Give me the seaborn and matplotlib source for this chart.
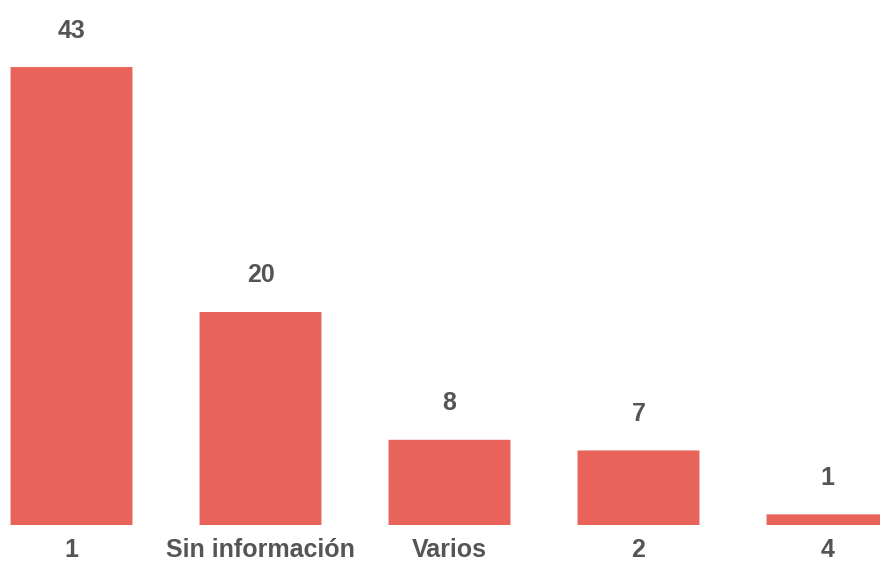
import seaborn as sns
import matplotlib.pyplot as plt
import pandas as pd
from matplotlib.patches import FancyBboxPatch

categorias = ['1', 'Sin información', 'Varios', '2', '4']
valores = [43, 20, 8, 7, 1]

df = pd.DataFrame({'cat': categorias, 'val': valores})

sns.set_style('white')
plt.rcParams['font.family'] = ['Liberation Sans', 'DejaVu Sans']

fig = plt.figure(figsize=(8.8, 5.62), dpi=100)
ax = fig.add_axes([0, 37 / 562, 1, 1 - 37 / 562])
sns.barplot(x='cat', y='val', data=df, color='#E8635A', saturation=1, width=0.645, ax=ax)

ax.set_xlim(-71.5 / 189, 808.5 / 189)
ax.set_ylim(0, 525 / 10.65)

# rounded corners on the bars
for p in list(ax.patches):
    x, y = p.get_x(), p.get_y()
    w, h = p.get_width(), p.get_height()
    fb = FancyBboxPatch((x, y), w, h, boxstyle='round,pad=0,rounding_size=0.015',
                        mutation_aspect=10.65 / 189, fc=p.get_facecolor(), ec='none')
    p.remove()
    ax.add_patch(fb)

for sp in ax.spines.values():
    sp.set_visible(False)
ax.set_yticks([])
ax.set_xlabel('')
ax.set_ylabel('')
ax.tick_params(axis='x', length=0, pad=9.5, labelsize=18, labelcolor='#555555')
for t in ax.get_xticklabels():
    t.set_fontweight('bold')

for i, v in enumerate(valores):
    ax.annotate(str(v), (i, v), xytext=(0, 26.3), textcoords='offset points',
                ha='center', va='center', fontsize=18, fontweight='bold', color='#555555')

fig.savefig('out.png', dpi=100)
